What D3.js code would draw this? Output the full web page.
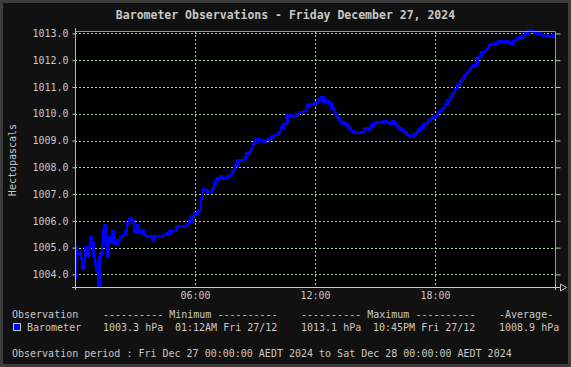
<!DOCTYPE html>
<html>
<head>
<meta charset="utf-8">
<script src="https://cdn.jsdelivr.net/npm/d3@7"></script>
<style>
  html, body { margin: 0; padding: 0; background: #111; }
  svg { display: block; }
  text { font-family: "DejaVu Sans Mono", monospace; fill: #c8c8c8; }
</style>
</head>
<body>
<svg id="chart"></svg>
<script>
// readings for Fri 27 Dec 2024
let times = ["00:00","00:04","00:09","00:16","00:19","00:24","00:29","00:32","00:39","00:44",
  "00:49","00:54","00:57","01:02","01:04","01:09","01:12","01:14","01:19","01:24",
  "01:27","01:30","01:34","01:39","01:42","01:49","01:54","01:57","02:04","02:12",
  "02:19","02:29","02:34","02:39","02:44","02:49","02:54","02:59","03:04","03:09",
  "03:14","03:22","03:29","03:39","03:49","03:56","04:04","04:19","04:29","04:39",
  "04:49","04:59","05:09","05:29","05:39","05:44","05:54","06:04","06:14","06:22",
  "06:25","06:34","06:41","06:49","06:54","06:59","07:04","07:11","07:19","07:24",
  "07:34","07:41","07:49","07:57","08:04","08:12","08:24","08:29","08:36","08:44",
  "08:52","08:57","09:04","09:11","09:19","09:29","09:36","09:44","09:54","10:06",
  "10:14","10:22","10:29","10:36","10:39","10:49","10:59","11:06","11:19","11:34",
  "11:39","11:49","11:59","12:04","12:14","12:22","12:29","12:39","12:46","12:54",
  "12:59","13:06","13:14","13:22","13:29","13:36","13:44","13:52","13:59","14:09",
  "14:19","14:26","14:29","14:39","14:46","14:51","14:59","15:09","15:19","15:29",
  "15:39","15:49","15:56","16:04","16:09","16:16","16:24","16:31","16:39","16:44",
  "16:51","16:59","17:06","17:14","17:22","17:29","17:36","17:44","17:52","17:59",
  "18:06","18:11","18:16","18:26","18:34","18:42","18:49","18:56","19:04","19:12",
  "19:19","19:26","19:32","19:39","19:44","19:52","19:59","20:06","20:09","20:14",
  "20:24","20:32","20:39","20:46","20:54","21:04","21:14","21:24","21:29","21:36",
  "21:44","21:52","21:59","22:09","22:19","22:26","22:34","22:45","22:54","23:01",
  "23:09","23:19","23:29","23:39","23:44","23:52","23:58"]

let pressure = [1003.85,1005.03,1004.78,1004.78,1004.60,1004.20,1004.30,1005.03,1004.70,1005.03,
  1005.40,1005.15,1004.70,1004.40,1004.15,1004.10,1003.30,1004.65,1004.78,1005.15,
  1005.60,1005.85,1005.15,1004.65,1005.40,1005.20,1005.60,1005.20,1005.15,1005.28,
  1005.40,1005.47,1005.60,1005.90,1006.05,1006.10,1005.97,1005.60,1005.60,1005.85,
  1005.60,1005.65,1005.47,1005.40,1005.42,1005.30,1005.42,1005.40,1005.47,1005.53,
  1005.60,1005.62,1005.78,1005.78,1005.85,1005.97,1006.16,1006.28,1006.40,1006.84,
  1007.17,1007.15,1007.05,1007.05,1007.20,1007.38,1007.50,1007.60,1007.65,1007.56,
  1007.60,1007.65,1007.75,1007.87,1008.06,1008.25,1008.25,1008.37,1008.52,1008.56,
  1008.68,1008.87,1008.97,1009.03,1008.99,1008.97,1009.02,1009.06,1009.16,1009.21,
  1009.30,1009.49,1009.62,1009.65,1009.93,1009.93,1009.90,1009.99,1010.06,1010.11,
  1010.30,1010.37,1010.32,1010.41,1010.53,1010.61,1010.45,1010.45,1010.38,1010.19,
  1010.03,1009.88,1009.78,1009.69,1009.63,1009.55,1009.45,1009.36,1009.30,1009.29,
  1009.32,1009.30,1009.45,1009.45,1009.39,1009.57,1009.66,1009.68,1009.67,1009.70,
  1009.67,1009.63,1009.70,1009.63,1009.54,1009.45,1009.39,1009.30,1009.20,1009.16,
  1009.14,1009.24,1009.29,1009.41,1009.49,1009.61,1009.66,1009.74,1009.83,1009.89,
  1009.93,1010.05,1010.10,1010.22,1010.36,1010.51,1010.63,1010.78,1010.92,1011.07,
  1011.22,1011.32,1011.44,1011.53,1011.63,1011.75,1011.81,1011.84,1012.06,1012.13,
  1012.29,1012.35,1012.46,1012.56,1012.59,1012.63,1012.71,1012.69,1012.67,1012.71,
  1012.65,1012.63,1012.72,1012.79,1012.85,1012.91,1013.00,1013.10,1013.09,1013.04,
  1013.00,1012.96,1012.91,1012.94,1012.87,1012.87,1012.96]

let yTicks = [1004, 1005, 1006, 1007, 1008, 1009, 1010, 1011, 1012, 1013]
let xTickHours = [6, 12, 18]

let title = "Barometer Observations - Friday December 27, 2024"
let yTitle = "Hectopascals"
let legendHead = ["Observation", "---------- Minimum ----------", "---------- Maximum ----------", "-Average-"]
let legendRow = ["Barometer", "1003.3 hPa", "01:12AM Fri 27/12", "1013.1 hPa", "10:45PM Fri 27/12", "1008.9 hPa"]
let period = "Observation period : Fri Dec 27 00:00:00 AEDT 2024 to Sat Dec 28 00:00:00 AEDT 2024"

let width = 571
let height = 367
let pLeft = 75, pRight = 555, pTop = 31, pBottom = 287
let yMin = 1003.53, yMax = 1013.09

let day = new Date(2024, 11, 27)
let parseTime = d3.timeParse("%Y-%m-%d %H:%M")
let values = times.map((t, i) => ({ date: parseTime("2024-12-27 " + t), value: pressure[i] }))

let svg = d3.select("#chart").attr("width", width).attr("height", height)

let xScale = d3.scaleTime()
  .domain([day, d3.timeDay.offset(day, 1)])
  .range([pLeft, pRight])
let yScale = d3.scaleLinear()
  .domain([yMin, yMax])
  .range([pBottom, pTop])

// frame + plot background
svg.append("rect").attr("x", 1.5).attr("y", 1.5).attr("width", width - 3).attr("height", height - 3)
  .attr("fill", "#111").attr("stroke", "#3c3c3c").attr("stroke-width", 3)
svg.append("rect").attr("x", pLeft).attr("y", pTop).attr("width", pRight - pLeft).attr("height", pBottom - pTop)
  .attr("fill", "#000")

// grid
let grid = svg.append("g").attr("stroke", "#a8d8a0").attr("stroke-dasharray", "2,2").attr("stroke-width", 1)
grid.selectAll(".hg").data(yTicks).enter().append("line")
  .attr("x1", pLeft).attr("x2", pRight)
  .attr("y1", d => Math.round(yScale(d)) + 0.5).attr("y2", d => Math.round(yScale(d)) + 0.5)
grid.selectAll(".vg").data(xTickHours).enter().append("line")
  .attr("x1", d => Math.round(xScale(d3.timeHour.offset(day, d))) + 0.5)
  .attr("x2", d => Math.round(xScale(d3.timeHour.offset(day, d))) + 0.5)
  .attr("y1", pTop).attr("y2", pBottom)

// data line (stepped, like the logger's own plot)
svg.append("clipPath").attr("id", "clip").append("rect")
  .attr("x", pLeft).attr("y", pTop - 2).attr("width", pRight - pLeft).attr("height", pBottom - pTop + 2)
let line = d3.line().curve(d3.curveStep).x(d => xScale(d.date)).y(d => yScale(d.value))
svg.append("path").datum(values)
  .attr("clip-path", "url(#clip)")
  .attr("d", line)
  .attr("fill", "none")
  .attr("stroke", "#0000ff")
  .attr("stroke-width", 2.6)
  .attr("stroke-linejoin", "miter")
  .attr("shape-rendering", "crispEdges")

// top & right border
svg.append("path").attr("d", `M${pLeft},${pTop + 0.5}H${pRight + 0.5}V${pBottom}`)
  .attr("fill", "none").attr("stroke", "#a0a058").attr("stroke-width", 1)

// y axis
let yAxis = d3.axisLeft(yScale).tickValues(yTicks).tickFormat(d3.format(".1f")).tickSize(3).tickPadding(4)
let yg = svg.append("g").attr("transform", "translate(" + (pLeft + 0.5) + ",0)").call(yAxis)
yg.select(".domain").remove()
yg.selectAll(".tick line").attr("stroke", "#a8d8a0")
yg.selectAll("text").style("font-size", "10px").attr("fill", "#c8c8c8")
svg.append("line").attr("x1", pLeft + 0.5).attr("x2", pLeft + 0.5).attr("y1", pTop - 3).attr("y2", pBottom + 3)
  .attr("stroke", "#a8c890")

let rAxis = d3.axisRight(yScale).tickValues(yTicks).tickFormat("").tickSize(5)
let rg = svg.append("g").attr("transform", "translate(" + (pRight + 0.5) + ",0)").call(rAxis)
rg.select(".domain").remove()
rg.selectAll(".tick line").attr("stroke", "#a8d8a0")

// x axis
let xAxis = d3.axisBottom(xScale)
  .tickValues(xTickHours.map(h => d3.timeHour.offset(day, h)))
  .tickFormat(d3.timeFormat("%H:%M"))
  .tickSize(0).tickPadding(5)
let xg = svg.append("g").attr("transform", "translate(0," + pBottom + ")").call(xAxis)
xg.select(".domain").remove()
xg.selectAll("text").style("font-size", "10px").attr("fill", "#c8c8c8")

svg.append("line").attr("x1", pLeft - 3).attr("x2", pRight + 5).attr("y1", pBottom + 0.5).attr("y2", pBottom + 0.5)
  .attr("stroke", "#c8c8c8")
svg.append("path").attr("d", `M${pRight + 5.5},${pBottom - 3}L${pRight + 11.5},${pBottom + 0.5}L${pRight + 5.5},${pBottom + 4}Z`)
  .attr("fill", "#111").attr("stroke", "#c8c8c8")
svg.selectAll(".endtick").data([0, 24]).enter().append("line")
  .attr("x1", d => Math.round(xScale(d3.timeHour.offset(day, d))) + 0.5)
  .attr("x2", d => Math.round(xScale(d3.timeHour.offset(day, d))) + 0.5)
  .attr("y1", pBottom - 3).attr("y2", pBottom + 3)
  .attr("stroke", "#a8d8a0")

// titles
svg.append("text").text(title)
  .attr("x", width / 2).attr("y", 19)
  .attr("text-anchor", "middle")
  .style("font-size", "11.5px").style("font-weight", "bold")
  .attr("fill", "#d0d0d0")

svg.append("text").text(yTitle)
  .attr("transform", "translate(16,160) rotate(-90)")
  .attr("text-anchor", "middle")
  .style("font-size", "10px")

// legend
let headX = [12, 103, 301, 499]
legendHead.forEach((t, i) => {
  svg.append("text").text(t).attr("x", headX[i]).attr("y", 317.5).style("font-size", "10px")
})
let rowX = [27, 103, 175, 301, 373, 499]
legendRow.forEach((t, i) => {
  svg.append("text").text(t).attr("x", rowX[i]).attr("y", 330.5).style("font-size", "10px")
})
svg.append("rect").attr("x", 13.5).attr("y", 323.5).attr("width", 7).attr("height", 7)
  .attr("fill", "#0000ff").attr("stroke", "#c8c8c8")

svg.append("text").text(period).attr("x", 12).attr("y", 357).style("font-size", "10px")
</script>
</body>
</html>
